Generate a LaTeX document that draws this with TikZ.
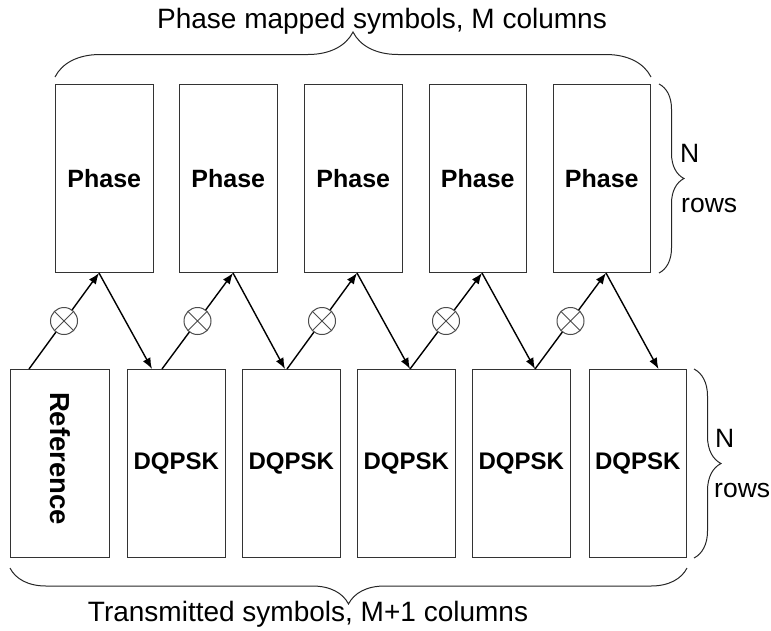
\documentclass[tikz,border=0pt]{standalone}
\usepackage{fontspec}
\setmainfont{Liberation Sans}
\usetikzlibrary{decorations.pathreplacing,arrows.meta}
\begin{document}
\begin{tikzpicture}[x=1pt,y=-1pt,
  blk/.style={draw=black!80,line width=1pt,fill=white,minimum width=97.5pt,minimum height=188pt,inner sep=0pt,anchor=north west},
  phfont/.style={font=\fontsize{25}{30}\selectfont\bfseries},
  dqfont/.style={font=\fontsize{24}{29}\selectfont\bfseries},
  arr/.style={-{Latex[length=11pt,width=8.5pt]},line width=1.4pt,black},
  mult/.style={circle,draw=black!70,line width=1pt,fill=white,minimum size=27pt,inner sep=0pt,
    path picture={\draw[-,black!70,line width=0.9pt]
      ([shift={(-9.6pt,-9.6pt)}]path picture bounding box.center) -- ([shift={(9.6pt,9.6pt)}]path picture bounding box.center)
      ([shift={(-9.6pt,9.6pt)}]path picture bounding box.center) -- ([shift={(9.6pt,-9.6pt)}]path picture bounding box.center);}},
  brc/.style={decorate,decoration={brace,amplitude=#1},line width=1pt,black!85},
  lbl/.style={font=\fontsize{28}{33}\selectfont,inner sep=0pt,anchor=base},
  side/.style={font=\fontsize{26.5}{32}\selectfont,inner sep=0pt,anchor=base west}]
\useasboundingbox (0,0) rectangle (771,630);

% top row
\node[blk,phfont] (ph1) at (55,84) {Phase};
\node[blk,phfont] (ph2) at (179,84) {Phase};
\node[blk,phfont] (ph3) at (304,84) {Phase};
\node[blk,phfont] (ph4) at (428.5,84) {Phase};
\node[blk,phfont] (ph5) at (552.5,84) {Phase};

% bottom row
\node[blk,minimum width=99pt] (ref) at (10,369) {};
\node[rotate=-90,inner sep=0pt,font=\fontsize{27.5}{32}\selectfont\bfseries] (reftxt) at ([yshift=5pt]ref.center) {Reference};
\node[blk,dqfont] (dq1) at (127,369) {DQPSK};
\node[blk,dqfont] (dq2) at (242,369) {DQPSK};
\node[blk,dqfont] (dq3) at (357,369) {DQPSK};
\node[blk,dqfont] (dq4) at (472,369) {DQPSK};
\node[blk,dqfont] (dq5) at (588.5,369) {DQPSK};

% connectors
\draw[arr] ([xshift=19pt]ref.north west) -- node[mult] (m1) {} ([xshift=44pt]ph1.south west);
\draw[arr] ([xshift=44pt]ph1.south west) -- ([xshift=25pt]dq1.north west);
\draw[arr] ([xshift=35pt]dq1.north west) -- node[mult] (m2) {} ([xshift=54pt]ph2.south west);
\draw[arr] ([xshift=54pt]ph2.south west) -- ([xshift=43pt]dq2.north west);
\draw[arr] ([xshift=45pt]dq2.north west) -- node[mult] (m3) {} ([xshift=53pt]ph3.south west);
\draw[arr] ([xshift=53pt]ph3.south west) -- ([xshift=53pt]dq3.north west);
\draw[arr] ([xshift=53pt]dq3.north west) -- node[mult] (m4) {} ([xshift=53.5pt]ph4.south west);
\draw[arr] ([xshift=53.5pt]ph4.south west) -- ([xshift=63pt]dq4.north west);
\draw[arr] ([xshift=63pt]dq4.north west) -- node[mult] (m5) {} ([xshift=53.5pt]ph5.south west);
\draw[arr] ([xshift=53.5pt]ph5.south west) -- ([xshift=70pt]dq5.north west);

% braces
\coordinate (tb1) at ([yshift=7pt]ph1.north west);
\coordinate (tb2) at ([yshift=7pt]ph5.north east);
\draw[brc=45pt] (tb1) -- (tb2);
\node[lbl] (toptxt) at (382,28) {Phase mapped symbols, M columns};

\coordinate (bb1) at ([yshift=-10pt]dq5.south east);
\coordinate (bb2) at ([yshift=-10pt]ref.south west);
\draw[brc=36pt] (bb1) -- (bb2);
\node[lbl] (bottxt) at (308,621) {Transmitted symbols, M+1 columns};

\coordinate (rb1) at ([xshift=8pt]ph5.north east);
\coordinate (rb2) at ([xshift=8pt]ph5.south east);
\draw[brc=25pt] (rb1) -- (rb2);
\node[side] (n1) at (680,162) {N};
\node[side] (r1) at (681,212) {rows};

\coordinate (rb3) at ([xshift=7pt]dq5.north east);
\coordinate (rb4) at ([xshift=7pt]dq5.south east);
\draw[brc=27pt] (rb3) -- (rb4);
\node[side] (n2) at (715,447) {N};
\node[side] (r2) at (714,497) {rows};
\end{tikzpicture}
\end{document}
